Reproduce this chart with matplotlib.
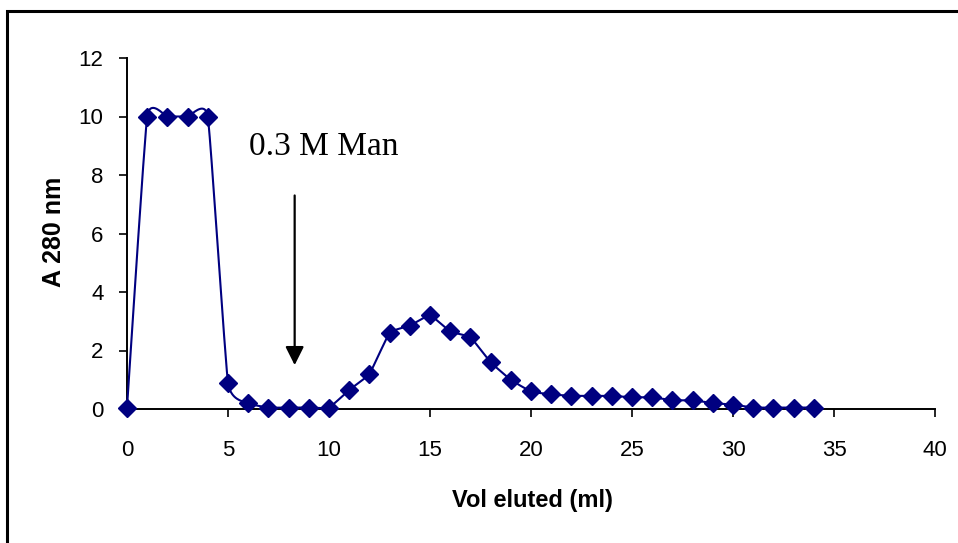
import numpy as np
import matplotlib.pyplot as plt
from matplotlib.patches import Rectangle

# elution profile, absorbance at 280 nm per ml fraction
vol = [0, 1, 2, 3, 4, 5, 6, 7, 8, 9, 10, 11, 12, 13, 14, 15, 16, 17,
       18, 19, 20, 21, 22, 23, 24, 25, 26, 27, 28, 29, 30, 31, 32, 33, 34]
a280 = [0.05, 10.0, 10.0, 10.0, 10.0, 0.9, 0.2, 0.05, 0.05, 0.05, 0.05,
        0.65, 1.2, 2.6, 2.85, 3.2, 2.65, 2.45, 1.6, 1.0, 0.6, 0.5, 0.45,
        0.45, 0.45, 0.4, 0.4, 0.3, 0.3, 0.2, 0.15, 0.05, 0.05, 0.05, 0.05]

x_ticks = [0, 5, 10, 15, 20, 25, 30, 35, 40]
y_ticks = [0, 2, 4, 6, 8, 10, 12]

arrow_x = 8.3
arrow_top = 7.3
arrow_tip = 1.5
label_text = '0.3 M Man'


def smooth_curve(x, y, n=20, t=0.5):
    # cardinal spline through the points, similar to a spreadsheet "smoothed line"
    x = np.asarray(x, float)
    y = np.asarray(y, float)
    px = np.concatenate([[x[0]], x, [x[-1]]])
    py = np.concatenate([[y[0]], y, [y[-1]]])
    xs, ys = [], []
    s = np.linspace(0, 1, n, endpoint=False)
    for i in range(1, len(px) - 2):
        m0x = t * (px[i + 1] - px[i - 1])
        m1x = t * (px[i + 2] - px[i])
        m0y = t * (py[i + 1] - py[i - 1])
        m1y = t * (py[i + 2] - py[i])
        h00 = 2 * s**3 - 3 * s**2 + 1
        h10 = s**3 - 2 * s**2 + s
        h01 = -2 * s**3 + 3 * s**2
        h11 = s**3 - s**2
        xs.append(h00 * px[i] + h10 * m0x + h01 * px[i + 1] + h11 * m1x)
        ys.append(h00 * py[i] + h10 * m0y + h01 * py[i + 1] + h11 * m1y)
    xs.append([x[-1]])
    ys.append([y[-1]])
    return np.concatenate(xs), np.concatenate(ys)


plt.rcParams['font.family'] = 'Liberation Sans'

fig = plt.figure(figsize=(9.58, 5.43), dpi=100)
ax = fig.add_axes([127 / 958, 1 - 409 / 543, (935 - 127) / 958, (409 - 58) / 543])

navy = '#000080'
sx, sy = smooth_curve(vol, a280, t=0.2)
ax.plot(sx, sy, color=navy, lw=1.5, clip_on=False, zorder=3)
ax.plot(vol, a280, linestyle='none', marker='D', markersize=9.5,
        color=navy, clip_on=False, zorder=4)

ax.set_xlim(0, 40)
ax.set_ylim(0, 12)
ax.set_xticks(x_ticks)
ax.set_yticks(y_ticks)
ax.tick_params(labelsize=16, length=6, width=1.2, direction='out')
ax.tick_params(axis='x', pad=16)
ax.tick_params(axis='y', pad=11)

for side in ['top', 'right']:
    ax.spines[side].set_visible(False)
for side in ['left', 'bottom']:
    ax.spines[side].set_linewidth(1.4)

ax.set_xlabel('Vol eluted (ml)', fontsize=17, fontweight='bold', va='center')
ax.xaxis.set_label_coords((532 - 127) / 808, (409 - 501) / 351)
ax.set_ylabel('A 280 nm', fontsize=18, fontweight='bold', va='center')
ax.yaxis.set_label_coords((54 - 127) / 808, (409 - 232) / 351)

ax.annotate('', xy=(arrow_x, arrow_tip), xytext=(arrow_x, arrow_top),
            arrowprops=dict(arrowstyle='-|>', color='black', lw=1.6,
                            mutation_scale=28, shrinkA=0, shrinkB=0))
ax.text(9.75, 8.97, label_text, fontsize=24, family='Liberation Serif',
        ha='center', va='center')

# outer chart frame, clipped at the right and bottom edges
fig.patches.append(Rectangle((7 / 958, -0.2), 1.2, 1.2 - 11 / 543,
                             transform=fig.transFigure, fill=False,
                             edgecolor='black', lw=2.2))

fig.savefig('out.png', dpi=100)
